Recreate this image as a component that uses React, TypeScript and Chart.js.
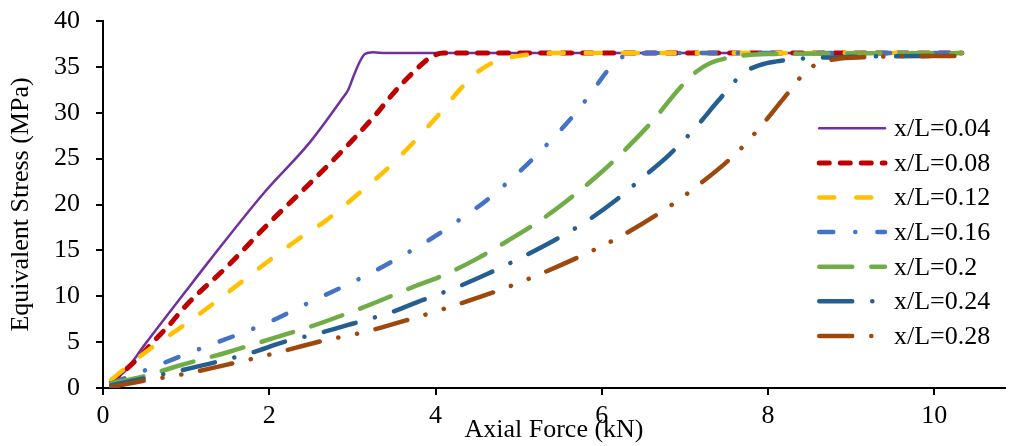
import React, { useEffect, useRef } from 'react';
import { Chart, registerables } from 'chart.js';

Chart.register(...registerables);

// Series labels
const seriesLabels = ['x/L=0.04', 'x/L=0.08', 'x/L=0.12', 'x/L=0.16', 'x/L=0.2', 'x/L=0.24', 'x/L=0.28'];

// Tick values
const xTickValues = [0, 2, 4, 6, 8, 10];
const yTickValues = [0, 5, 10, 15, 20, 25, 30, 35, 40];

// Axial force (kN) / equivalent stress (MPa)
const force004 = [0.1, 0.27, 0.5, 1, 1.3, 1.93, 2.49, 2.89, 2.95, 3.01, 3.08, 3.15, 3.25, 3.4, 10.33];
const stress004 = [0.6, 1.9, 4.7, 10.6, 14.1, 21.2, 26.8, 31.7, 32.5, 33.9, 35.4, 36.4, 36.6, 36.5, 36.5];

const force008 = [0.1, 0.25, 0.45, 0.6, 0.8, 1, 1.5, 2, 2.5, 3, 3.3, 3.5, 3.8, 3.95, 4.1, 10.33];
const stress008 = [0.6, 1.8, 3.5, 5.0, 6.9, 9.0, 13.3, 18.0, 22.4, 27.0, 30.0, 32.2, 35.0, 36.1, 36.5, 36.5];

const force012 = [0.1, 0.3, 0.6, 1, 1.5, 2, 2.33, 2.69, 3.05, 3.5, 4, 4.3, 4.5, 4.75, 5, 5.4, 10.33];
const stress012 = [0.9, 2.4, 4.5, 7.0, 10.4, 13.9, 16.1, 18.3, 21.0, 24.6, 29.4, 32.6, 34.4, 35.7, 36.2, 36.5, 36.5];

const force016 = [0.1, 0.3, 0.5, 0.75, 1, 1.6, 2, 2.5, 3.13, 3.5, 3.97, 4.33, 4.62, 4.89, 5.15, 5.4, 5.64, 5.86, 6.07, 6.2, 6.35, 6.6, 10.33];
const stress016 = [0.5, 1.2, 1.9, 2.8, 3.7, 5.75, 7.2, 9.4, 12.1, 13.9, 16.4, 18.6, 20.5, 22.6, 24.8, 27.1, 29.5, 32.0, 34.6, 35.8, 36.4, 36.5, 36.5];

const force020 = [0.1, 0.5, 0.9, 1.5, 2, 2.5, 2.9, 3.3, 3.7, 4.1, 4.5, 4.86, 5.2, 5.55, 5.98, 6.35, 6.63, 6.9, 7.1, 7.3, 7.6, 8, 10.33];
const stress020 = [0.5, 1.3, 2.4, 3.9, 5.3, 6.7, 8.0, 9.4, 10.9, 12.3, 14.1, 16.0, 17.9, 20.2, 23.4, 26.6, 29.3, 32.3, 34.2, 35.4, 36.1, 36.4, 36.5];

const force024 = [0.1, 0.5, 0.93, 1.35, 1.77, 2.17, 2.61, 3.0, 3.45, 3.85, 4.26, 4.64, 5.05, 5.43, 5.82, 6.16, 6.5, 6.82, 7.13, 7.4, 7.7, 7.9, 8.1, 8.4, 9, 10.33];
const stress024 = [0.3, 1.05, 1.9, 2.8, 3.8, 5.0, 6.0, 7.0, 8.2, 9.6, 11.0, 12.5, 14.3, 16.1, 18.2, 20.4, 23.0, 25.5, 28.4, 31.3, 34.3, 35.2, 35.6, 35.9, 36.1, 36.2];

const force028 = [0.1, 0.5, 0.96, 1.59, 2.03, 2.67, 3.1, 3.73, 4.16, 4.78, 5.2, 5.8, 6.2, 6.75, 7.13, 7.63, 7.93, 8.2, 8.48, 8.69, 9, 10.33];
const stress028 = [0.1, 0.8, 1.5, 2.75, 3.7, 5.2, 6.0, 7.6, 8.8, 10.7, 12.2, 14.6, 16.4, 19.4, 21.9, 25.7, 28.7, 31.7, 34.7, 35.6, 36.0, 36.2];

const forces = [force004, force008, force012, force016, force020, force024, force028];
const stresses = [stress004, stress008, stress012, stress016, stress020, stress024, stress028];

// Styles
const colors = ['#7030A0', '#C00000', '#FFC000', '#4472C4', '#70AD47', '#255E91', '#9E480E'];
const widths = [2.5, 5, 4.5, 4.5, 4.5, 4.5, 4.5];
const dashes: number[][] = [
  [],
  [10, 11],
  [15, 22],
  [14, 22, 0.1, 22],
  [33, 19],
  [33, 20, 0.1, 20],
  [33, 19, 0.1, 19, 0.1, 19],
];

const FONT = '"Liberation Serif", "Times New Roman", serif';

const legendPlugin = {
  id: 'customLegend',
  afterDraw(chart: any) {
    const ctx = chart.ctx;
    const area = chart.chartArea;
    const x0 = area.right - 188;
    const y0 = area.top + 107.3;
    const step = 34.6;
    chart.data.datasets.forEach((ds: any, i: number) => {
      const y = y0 + i * step;
      ctx.save();
      ctx.strokeStyle = ds.borderColor;
      ctx.lineWidth = ds.borderWidth;
      ctx.lineCap = 'round';
      ctx.setLineDash(ds.borderDash || []);
      ctx.beginPath();
      ctx.moveTo(x0 + 2.25, y);
      ctx.lineTo(x0 + 68, y);
      ctx.stroke();
      ctx.setLineDash([]);
      ctx.fillStyle = '#000';
      ctx.font = `26px ${FONT}`;
      ctx.textAlign = 'left';
      ctx.textBaseline = 'middle';
      ctx.fillText(ds.label, x0 + 77, y + 1);
      ctx.restore();
    });
  },
};

export default function App() {
  const ref = useRef<HTMLCanvasElement | null>(null);

  useEffect(() => {
    if (!ref.current) return;
    const datasets = seriesLabels.map((label, i) => ({
      label,
      data: forces[i].map((x, j) => ({ x, y: stresses[i][j] })),
      borderColor: colors[i],
      backgroundColor: colors[i],
      borderWidth: widths[i],
      borderDash: dashes[i],
      borderCapStyle: 'round' as const,
      borderJoinStyle: 'round' as const,
      pointRadius: 0,
      fill: false,
      cubicInterpolationMode: 'monotone' as const,
      order: 10 - i,
    }));

    const chart = new Chart(ref.current, {
      type: 'line',
      data: { datasets },
      plugins: [legendPlugin],
      options: {
        animation: false,
        responsive: false,
        maintainAspectRatio: false,
        layout: { padding: { left: 0, right: 4, top: 21, bottom: 0 } },
        plugins: { legend: { display: false }, tooltip: { enabled: false } },
        scales: {
          x: {
            type: 'linear',
            min: 0,
            max: 10.85,
            ticks: { color: '#000', font: { family: FONT, size: 26 }, padding: 6 },
            afterBuildTicks: (s: any) => {
              s.ticks = xTickValues.map((v) => ({ value: v }));
            },
            afterFit: (s: any) => {
              s.height = 58;
              s.paddingLeft = 0;
              s.paddingRight = 0;
            },
            grid: { drawOnChartArea: false, drawTicks: true, tickLength: 7, color: '#000', lineWidth: 2 },
            border: { color: '#000', width: 2 },
            title: {
              display: true,
              text: 'Axial Force (kN)',
              color: '#000',
              font: { family: FONT, size: 26 },
              padding: { top: 0, bottom: 0 },
            },
          },
          y: {
            min: 0,
            max: 40,
            ticks: { color: '#000', font: { family: FONT, size: 26 }, padding: 16 },
            afterBuildTicks: (s: any) => {
              s.ticks = yTickValues.map((v) => ({ value: v }));
            },
            afterFit: (s: any) => {
              s.width = 103;
              s.paddingTop = 0;
              s.paddingBottom = 0;
            },
            grid: { drawOnChartArea: false, drawTicks: true, tickLength: 7, color: '#000', lineWidth: 2 },
            border: { color: '#000', width: 2 },
            title: {
              display: true,
              text: 'Equivalent Stress (MPa)',
              color: '#000',
              font: { family: FONT, size: 26 },
              padding: { top: 6, bottom: 0 },
            },
          },
        },
      },
    } as any);
    return () => chart.destroy();
  }, []);

  return (
    <div style={{ position: 'fixed', left: 0, top: 0, width: 1009, height: 446, background: '#fff' }}>
      <canvas ref={ref} width={1009} height={446} style={{ display: 'block' }} />
    </div>
  );
}
